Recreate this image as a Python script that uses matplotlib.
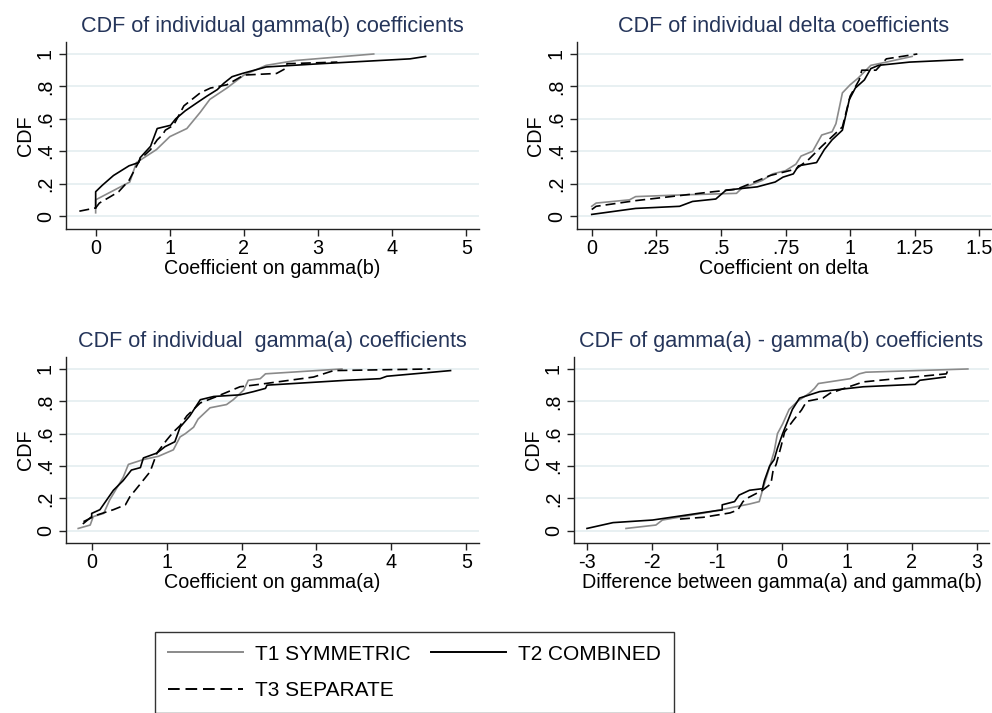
import matplotlib
matplotlib.use("Agg")
import matplotlib.pyplot as plt
from matplotlib.lines import Line2D

plt.rcParams.update({
    'font.family': ['Liberation Sans', 'DejaVu Sans'],
    'axes.unicode_minus': False,
})

# ---- data read off the reference (x = coefficient, y = empirical CDF) ----
# panel 1: gamma(b)
gb_t1_x = [0, 0, 0.46, 0.55, 0.82, 1.0, 1.23, 1.41, 1.54, 1.77, 2.0, 2.3, 2.7, 3.75]
gb_t1_y = [0.02, 0.10, 0.21, 0.33, 0.41, 0.49, 0.54, 0.64, 0.72, 0.79, 0.87, 0.93, 0.96, 1.0]
gb_t2_x = [0, 0, 0.09, 0.24, 0.45, 0.58, 0.60, 0.74, 0.83, 1.01, 1.08, 1.21, 1.37, 1.50, 1.64,
           1.73, 1.84, 1.98, 2.3, 3.03, 4.24, 4.45]
gb_t2_y = [0.05, 0.15, 0.19, 0.25, 0.31, 0.33, 0.36, 0.43, 0.54, 0.56, 0.60, 0.65, 0.70, 0.74, 0.78,
           0.82, 0.86, 0.88, 0.92, 0.94, 0.97, 0.985]
gb_t3_x = [-0.22, 0, 0.05, 0.2, 0.31, 0.45, 0.6, 0.74, 0.83, 0.9, 0.94, 1.05, 1.19, 1.3, 1.41,
           1.55, 1.77, 2.0, 2.44, 2.56, 2.58, 3.26]
gb_t3_y = [0.03, 0.05, 0.08, 0.12, 0.15, 0.22, 0.35, 0.41, 0.47, 0.50, 0.53, 0.56, 0.68, 0.72, 0.76,
           0.79, 0.81, 0.87, 0.88, 0.91, 0.94, 0.95]

# panel 2: delta
d_t1_x = [0, 0.017, 0.146, 0.17, 0.34, 0.56, 0.58, 0.66, 0.70, 0.75, 0.79, 0.81, 0.855, 0.89, 0.93,
          0.945, 0.97, 1.0, 1.03, 1.08, 1.14, 1.24]
d_t1_y = [0.06, 0.08, 0.10, 0.12, 0.13, 0.14, 0.17, 0.22, 0.26, 0.28, 0.32, 0.37, 0.40, 0.50, 0.52,
          0.57, 0.76, 0.81, 0.85, 0.93, 0.95, 0.985]
d_t2_x = [0, 0.17, 0.34, 0.39, 0.48, 0.52, 0.64, 0.71, 0.74, 0.78, 0.80, 0.87, 0.90, 0.93, 0.97,
          0.997, 1.02, 1.055, 1.08, 1.11, 1.23, 1.435]
d_t2_y = [0.01, 0.047, 0.06, 0.09, 0.105, 0.16, 0.18, 0.21, 0.24, 0.26, 0.31, 0.33, 0.41, 0.47, 0.53,
          0.72, 0.79, 0.84, 0.91, 0.93, 0.95, 0.965]
d_t3_x = [0, 0.017, 0.17, 0.47, 0.56, 0.69, 0.79, 0.84, 0.89, 0.97, 1.0, 1.035, 1.045, 1.10, 1.14, 1.26]
d_t3_y = [0.04, 0.06, 0.095, 0.15, 0.165, 0.25, 0.29, 0.35, 0.43, 0.55, 0.74, 0.84, 0.90, 0.90, 0.97, 1.0]

# panel 3: gamma(a)
ga_t1_x = [-0.18, -0.02, 0.02, 0.16, 0.24, 0.42, 0.49, 0.69, 0.89, 1.09, 1.18, 1.25, 1.36, 1.42,
           1.58, 1.80, 1.89, 2.03, 2.09, 2.25, 2.32, 3.34]
ga_t1_y = [0.014, 0.035, 0.087, 0.107, 0.19, 0.33, 0.41, 0.44, 0.46, 0.50, 0.58, 0.60, 0.64, 0.69,
           0.76, 0.78, 0.81, 0.87, 0.93, 0.94, 0.97, 1.0]
ga_t2_x = [-0.11, 0, 0, 0.11, 0.29, 0.42, 0.53, 0.65, 0.69, 0.87, 0.98, 1.11, 1.18, 1.31, 1.45,
           1.63, 1.98, 2.16, 2.32, 2.34, 3.4, 3.85, 3.94, 4.79]
ga_t2_y = [0.045, 0.087, 0.107, 0.13, 0.25, 0.31, 0.375, 0.39, 0.45, 0.48, 0.52, 0.55, 0.64, 0.71, 0.81,
           0.83, 0.84, 0.86, 0.88, 0.90, 0.93, 0.94, 0.955, 0.99]
ga_t3_x = [-0.11, 0.07, 0.29, 0.45, 0.51, 0.65, 0.78, 0.87, 1.0, 1.09, 1.18, 1.27, 1.45, 1.67, 1.98,
           2.16, 2.96, 3.23, 4.52]
ga_t3_y = [0.056, 0.097, 0.13, 0.16, 0.21, 0.29, 0.365, 0.48, 0.56, 0.61, 0.65, 0.71, 0.79, 0.83, 0.89,
           0.90, 0.95, 0.99, 1.0]

# panel 4: gamma(a) - gamma(b)
df_t1_x = [-2.4, -1.94, -1.84, -1.12, -0.81, -0.50, -0.35, -0.30, -0.22, -0.12, -0.07, 0.01, 0.11,
           0.24, 0.42, 0.50, 0.56, 1.05, 1.19, 1.29, 2.86]
df_t1_y = [0.014, 0.035, 0.066, 0.115, 0.14, 0.165, 0.18, 0.25, 0.355, 0.49, 0.60, 0.66, 0.75,
           0.80, 0.85, 0.88, 0.91, 0.94, 0.97, 0.98, 1.0]
df_t2_x = [-3.0, -2.6, -1.99, -1.01, -0.92, -0.92, -0.73, -0.66, -0.50, -0.30, -0.27, -0.19, -0.12,
           -0.07, 0.01, 0.09, 0.16, 0.27, 0.58, 1.25, 2.05, 2.12, 2.51]
df_t2_y = [0.014, 0.05, 0.066, 0.124, 0.128, 0.16, 0.18, 0.22, 0.25, 0.26, 0.31, 0.40, 0.44,
           0.51, 0.60, 0.68, 0.75, 0.82, 0.86, 0.89, 0.905, 0.93, 0.95]
df_t3_x = [-1.57, -1.21, -0.8, -0.68, -0.6, -0.54, -0.3, -0.17, -0.14, -0.09, -0.015, 0.04, 0.17,
           0.30, 0.38, 0.63, 0.74, 1.25, 2.02, 2.53, 2.55]
df_t3_y = [0.072, 0.083, 0.11, 0.128, 0.18, 0.20, 0.25, 0.29, 0.365, 0.41, 0.52, 0.61, 0.68,
           0.746, 0.80, 0.82, 0.85, 0.92, 0.95, 0.97, 0.99]

cdf_ticks = [0, 0.2, 0.4, 0.6, 0.8, 1]
cdf_labels = ['0', '.2', '.4', '.6', '.8', '1']

panels = [
    dict(rect=[66, 42, 479, 229], title='CDF of individual gamma(b) coefficients',
         xlabel='Coefficient on gamma(b)', xlim=(-0.4, 5.17), ylim=(-0.08, 1.074),
         xticks=[0, 1, 2, 3, 4, 5], xlabels=['0', '1', '2', '3', '4', '5'],
         series=[(gb_t1_x, gb_t1_y), (gb_t2_x, gb_t2_y), (gb_t3_x, gb_t3_y)]),
    dict(rect=[577, 42, 991, 229], title='CDF of individual delta coefficients',
         xlabel='Coefficient on delta', xlim=(-0.057, 1.545), ylim=(-0.08, 1.074),
         xticks=[0, 0.25, 0.5, 0.75, 1, 1.25, 1.5],
         xlabels=['0', '.25', '.5', '.75', '1', '1.25', '1.5'],
         series=[(d_t1_x, d_t1_y), (d_t2_x, d_t2_y), (d_t3_x, d_t3_y)]),
    dict(rect=[66, 357, 479, 543], title='CDF of individual  gamma(a) coefficients',
         xlabel='Coefficient on gamma(a)', xlim=(-0.343, 5.17), ylim=(-0.076, 1.074),
         xticks=[0, 1, 2, 3, 4, 5], xlabels=['0', '1', '2', '3', '4', '5'],
         series=[(ga_t1_x, ga_t1_y), (ga_t2_x, ga_t2_y), (ga_t3_x, ga_t3_y)]),
    dict(rect=[574, 357, 989, 543], title='CDF of gamma(a) - gamma(b) coefficients',
         xlabel='Difference between gamma(a) and gamma(b)', xlim=(-3.2, 3.185), ylim=(-0.076, 1.074),
         xticks=[-3, -2, -1, 0, 1, 2, 3], xlabels=['-3', '-2', '-1', '0', '1', '2', '3'],
         series=[(df_t1_x, df_t1_y), (df_t2_x, df_t2_y), (df_t3_x, df_t3_y)]),
]

W, H = 992, 713
styles = [dict(color='#8a8a8a', lw=1.2, ls='-'),
          dict(color='black', lw=1.2, ls='-'),
          dict(color='black', lw=1.2, ls=(0, (6, 3)))]
names = ['T1 SYMMETRIC', 'T2 COMBINED', 'T3 SEPARATE']
title_color = '#25355a'
fs = 14.2

fig = plt.figure(figsize=(W / 100, H / 100), dpi=100)

for p in panels:
    l, t, r, b = p['rect']
    ax = fig.add_axes([l / W, 1 - b / H, (r - l) / W, (b - t) / H])
    for (xs, ys), st in zip(p['series'], styles):
        ax.plot(xs, ys, color=st['color'], lw=st['lw'], linestyle=st['ls'])
    ax.set_xlim(*p['xlim'])
    ax.set_ylim(*p['ylim'])
    ax.set_xticks(p['xticks'])
    ax.set_xticklabels(p['xlabels'])
    ax.set_yticks(cdf_ticks)
    ax.set_yticklabels(cdf_labels, rotation=90, va='center')
    ax.grid(axis='y', color='#e6eff1', lw=1.3)
    ax.set_axisbelow(True)
    for s in ['top', 'right']:
        ax.spines[s].set_visible(False)
    for s in ['left', 'bottom']:
        ax.spines[s].set_linewidth(1.0)
        ax.spines[s].set_color('#222222')
    ax.tick_params(axis='both', direction='out', length=5, width=1.0, labelsize=fs, color='#222222')
    ax.tick_params(axis='y', pad=3)
    ax.tick_params(axis='x', pad=2)
    ax.set_xlabel(p['xlabel'], fontsize=fs, labelpad=1)
    ax.set_ylabel('CDF', fontsize=fs, labelpad=1)
    ax.set_title(p['title'], fontsize=15.6, color=title_color, pad=7)

# legend filled column-wise, so order gives T1,T2 on row one and T3 on row two
order = [0, 2, 1]
handles = [Line2D([], [], color=styles[i]['color'], lw=1.4, linestyle=styles[i]['ls']) for i in order]
labels = [names[i] for i in order]
leg = fig.legend(handles, labels, loc='upper left', bbox_to_anchor=(155 / W, 1 - 632 / H),
                 ncol=2, frameon=True, fancybox=False, edgecolor='black',
                 handlelength=3.6, handletextpad=0.58, columnspacing=1.0, labelspacing=0.85,
                 borderpad=0.6, borderaxespad=0,
                 prop={'family': ['Liberation Sans'], 'size': 15})
leg.get_frame().set_linewidth(1.0)

fig.savefig('out.png', dpi=100, facecolor='white')
